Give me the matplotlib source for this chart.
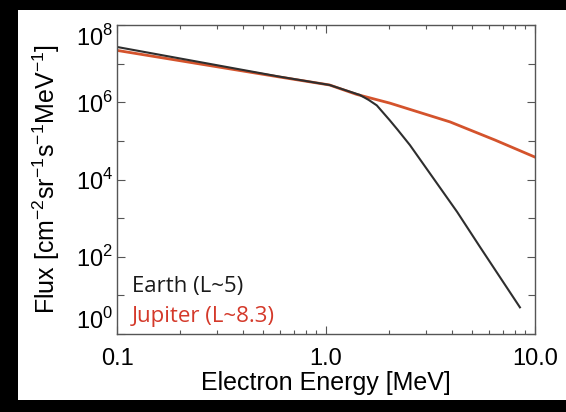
import matplotlib
matplotlib.use("Agg")
import matplotlib.pyplot as plt
from matplotlib.patches import Rectangle
from matplotlib.ticker import LogLocator, FixedLocator, NullFormatter

# Earth (L~5) spectrum
earth_energy = [0.1, 0.6, 1.04, 1.45, 1.6, 1.75, 2.02, 2.2, 2.52, 3.5, 4.24, 5.46, 8.47]
earth_flux = [2.7e7, 4.6e6, 2.8e6, 1.55e6, 1.15e6, 8.3e5, 3.4e5, 1.95e5, 7.8e4,
              6.3e3, 1.45e3, 178, 4.9]

# Jupiter (L~8.3) spectrum
jupiter_energy = [0.1, 0.6, 1.04, 1.4, 2.02, 3.92, 6.44, 10.0]
jupiter_flux = [2.2e7, 4.5e6, 2.8e6, 1.6e6, 9.5e5, 3.1e5, 1.05e5, 3.8e4]

x_ticks = [0.1, 1.0, 10.0]
x_labels = ["0.1", "1.0", "10.0"]
y_ticks = [1e0, 1e2, 1e4, 1e6, 1e8]
y_labels = [r"10$^0$", r"10$^2$", r"10$^4$", r"10$^6$", r"10$^8$"]

plt.rcParams["font.family"] = ["Liberation Sans", "DejaVu Sans"]
plt.rcParams["mathtext.fontset"] = "custom"
plt.rcParams["mathtext.rm"] = "Liberation Sans"

W, H = 566, 412
fig = plt.figure(figsize=(W / 100, H / 100), dpi=100, facecolor="black")

# white panel behind the plot
fig.add_artist(Rectangle((18 / W, 1 - 400 / H), (566 - 18) / W, (400 - 10) / H,
                         transform=fig.transFigure, facecolor="white",
                         edgecolor="none", zorder=-5))

ax = fig.add_axes([117 / W, 1 - 334 / H, (535 - 117) / W, (334 - 25) / H])
ax.set_facecolor("white")

ax.plot(jupiter_energy, jupiter_flux, color="#d4532c", lw=2.0)
ax.plot(earth_energy, earth_flux, color="#2e2e2e", lw=1.5)

ax.set_xscale("log")
ax.set_yscale("log")
ax.set_xlim(0.1, 10.0)
ax.set_ylim(1e0, 1e8)

ax.xaxis.set_major_locator(FixedLocator(x_ticks))
ax.set_xticklabels(x_labels)
ax.xaxis.set_minor_locator(LogLocator(base=10, subs=range(2, 10)))
ax.xaxis.set_minor_formatter(NullFormatter())

ax.yaxis.set_major_locator(FixedLocator(y_ticks))
ax.set_yticklabels(y_labels)
ax.yaxis.set_minor_locator(FixedLocator([1e1, 1e3, 1e5, 1e7]))
ax.yaxis.set_minor_formatter(NullFormatter())

for s in ax.spines.values():
    s.set_color("#555555")
    s.set_linewidth(1.0)
ax.tick_params(which="both", direction="in", top=True, right=True, colors="#555555",
               labelcolor="black", labelsize=17)
ax.tick_params(which="major", length=6, width=0.8)
ax.tick_params(axis="x", which="major", pad=10)
ax.tick_params(axis="y", which="major", pad=3)
ax.tick_params(axis="y", which="minor", length=5, width=0.8)
ax.tick_params(axis="x", which="minor", length=3, width=0.8)

# end labels sit inside the axis range, like the original
ylabs = ax.get_yticklabels()
ylabs[0].set_va("bottom")
ylabs[-1].set_va("top")

ax.set_xlabel("Electron Energy [MeV]", fontsize=18, labelpad=1)
ax.set_ylabel(r"Flux [cm$^{-2}$sr$^{-1}$s$^{-1}$MeV$^{-1}$]", fontsize=18, labelpad=10)

ax.text(0.036, 0.136, "Earth (L~5)", transform=ax.transAxes, fontsize=16,
        color="#1a1a1a", family="Open Sans")
ax.text(0.036, 0.039, "Jupiter (L~8.3)", transform=ax.transAxes, fontsize=16,
        color="#d4392a", family="Open Sans")

fig.savefig("out.png", dpi=100, facecolor="black")
